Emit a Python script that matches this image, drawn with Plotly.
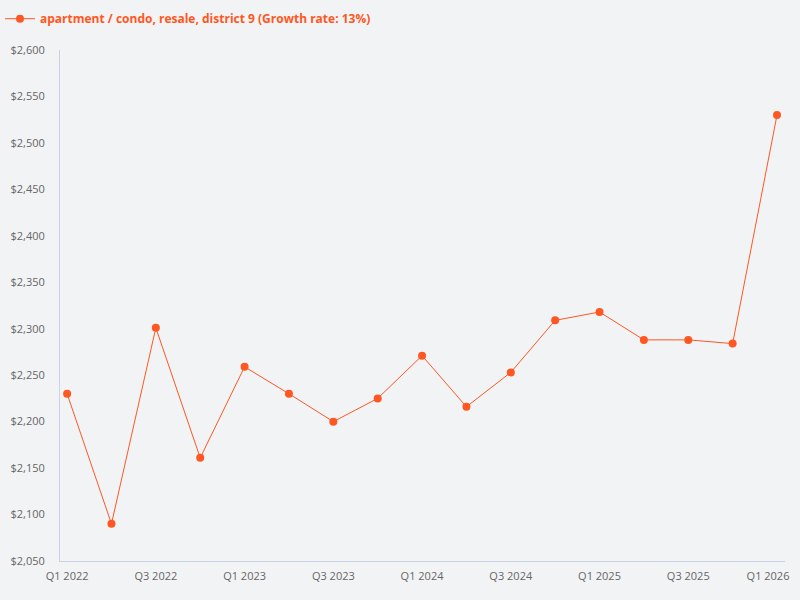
import plotly.graph_objects as go

quarters = ["Q1 2022", "Q2 2022", "Q3 2022", "Q4 2022",
            "Q1 2023", "Q2 2023", "Q3 2023", "Q4 2023",
            "Q1 2024", "Q2 2024", "Q3 2024", "Q4 2024",
            "Q1 2025", "Q2 2025", "Q3 2025", "Q4 2025",
            "Q1 2026"]
prices = [2230, 2090, 2301, 2161,
          2259, 2230, 2200, 2225,
          2271, 2216, 2253, 2309,
          2318, 2288, 2288, 2284,
          2530]
series_name = "apartment / condo, resale, district 9 (Growth rate: 13%)"

color = "#FF5722"
bg = "#F2F3F5"

tick_vals = quarters[::2]
x_range = [-0.16, 16.18]

fig = go.Figure()
fig.add_trace(go.Scatter(
    x=quarters, y=prices, mode="lines+markers", name=series_name,
    line=dict(color=color, width=1),
    marker=dict(color=color, size=8),
))
# empty helper trace so the overlay axis (last tick label only) is drawn
fig.add_trace(go.Scatter(x=[None], y=[None], xaxis="x2", yaxis="y",
                         mode="markers", showlegend=False, hoverinfo="skip"))

fig.update_layout(
    width=800, height=600,
    paper_bgcolor=bg, plot_bgcolor=bg,
    margin=dict(l=60, r=15, t=50, b=39),
    font=dict(family="Open Sans", size=11, color="#666666"),
    showlegend=True,
    legend=dict(orientation="h", x=-0.008, y=0.993, xref="container", yref="container",
                xanchor="left", yanchor="top",
                font=dict(family="Open Sans", size=12, color=color, weight="bold"),
                bgcolor="rgba(0,0,0,0)"),
    xaxis=dict(type="category", range=x_range, tickmode="array",
               tickvals=tick_vals[:-1], ticktext=tick_vals[:-1],
               showgrid=False, zeroline=False, showline=True, automargin=False,
               linecolor="#C8D4E6", linewidth=1,
               ticks="outside", ticklen=5, tickcolor="rgba(0,0,0,0)"),
    xaxis2=dict(type="linear", range=x_range, overlaying="x", side="bottom",
                anchor="y", tickmode="array",
                tickvals=[quarters.index(tick_vals[-1])], ticktext=[tick_vals[-1]],
                ticklabelshift=-9,
                showgrid=False, zeroline=False, showline=False, automargin=False,
                ticks="outside", ticklen=5, tickcolor="rgba(0,0,0,0)"),
    yaxis=dict(range=[2050, 2600], dtick=50, tick0=2050, tickprefix="$",
               tickformat=",d", showgrid=False, zeroline=False, showline=True,
               automargin=False,
               linecolor="#C8D4E6", linewidth=1,
               ticks="outside", ticklen=12, tickcolor="rgba(0,0,0,0)"),
)

fig.write_html("out.html", config={"displayModeBar": False},
               post_script="document.body.style.margin='0';")
